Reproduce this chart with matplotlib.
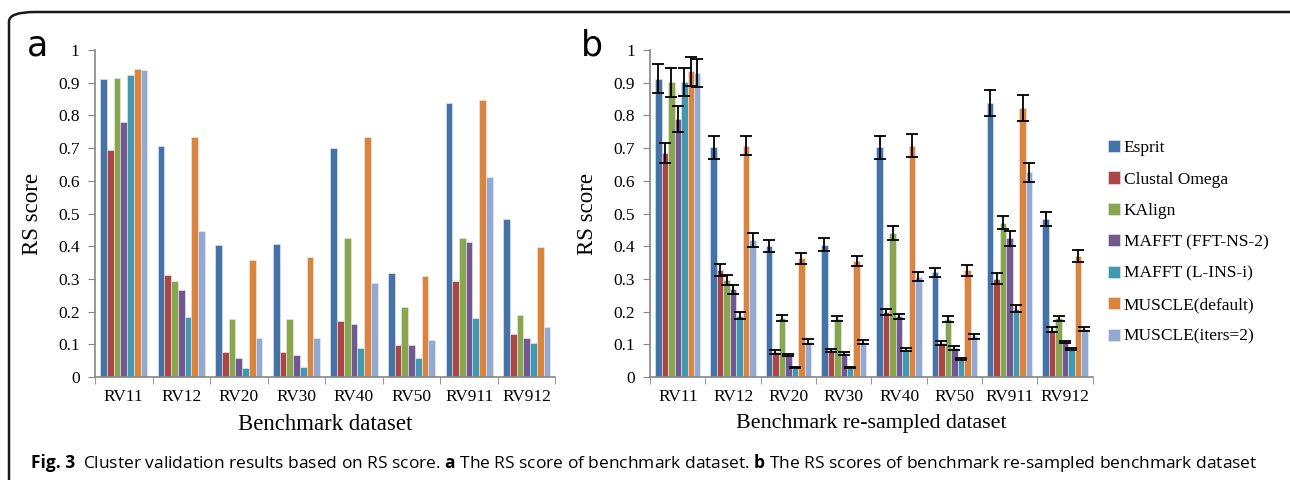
import matplotlib.pyplot as plt
import numpy as np
from matplotlib.patches import FancyBboxPatch

plt.rcParams["mathtext.fontset"] = "custom"
plt.rcParams["mathtext.bf"] = "Open Sans:bold"
plt.rcParams["mathtext.rm"] = "Open Sans"

datasets = ["RV11", "RV12", "RV20", "RV30", "RV40", "RV50", "RV911", "RV912"]
methods = ["Esprit", "Clustal Omega", "KAlign", "MAFFT (FFT-NS-2)",
           "MAFFT (L-INS-i)", "MUSCLE(default)", "MUSCLE(iters=2)"]
colors = ["#4572A7", "#AA4643", "#89A54E", "#71588F", "#4198AF", "#DB843D", "#93A9CF"]

# panel a: RS score on the benchmark datasets (rows = methods)
esprit_a = [0.911, 0.708, 0.403, 0.407, 0.701, 0.317, 0.838, 0.484]
clustal_a = [0.693, 0.312, 0.076, 0.076, 0.172, 0.099, 0.294, 0.131]
kalign_a = [0.916, 0.294, 0.176, 0.176, 0.425, 0.213, 0.425, 0.189]
fftns_a = [0.780, 0.267, 0.058, 0.067, 0.162, 0.099, 0.412, 0.118]
linsi_a = [0.925, 0.184, 0.026, 0.031, 0.090, 0.058, 0.180, 0.103]
muscle_a = [0.943, 0.734, 0.357, 0.366, 0.734, 0.308, 0.847, 0.398]
iters_a = [0.939, 0.448, 0.118, 0.118, 0.289, 0.112, 0.612, 0.153]

# panel b: mean RS score on re-sampled datasets and error bars
esprit_b = [0.912, 0.703, 0.401, 0.405, 0.703, 0.320, 0.838, 0.484]
clustal_b = [0.685, 0.327, 0.077, 0.082, 0.199, 0.104, 0.301, 0.145]
kalign_b = [0.902, 0.297, 0.180, 0.178, 0.440, 0.178, 0.472, 0.180]
fftns_b = [0.789, 0.268, 0.066, 0.072, 0.186, 0.089, 0.424, 0.107]
linsi_b = [0.902, 0.188, 0.029, 0.029, 0.084, 0.056, 0.209, 0.086]
muscle_b = [0.935, 0.708, 0.363, 0.355, 0.708, 0.327, 0.824, 0.370]
iters_b = [0.930, 0.419, 0.108, 0.108, 0.307, 0.125, 0.626, 0.147]

esprit_err = [0.044, 0.035, 0.018, 0.019, 0.035, 0.014, 0.039, 0.021]
clustal_err = [0.030, 0.018, 0.007, 0.005, 0.009, 0.005, 0.016, 0.008]
kalign_err = [0.044, 0.015, 0.010, 0.008, 0.022, 0.010, 0.020, 0.008]
fftns_err = [0.039, 0.013, 0.003, 0.005, 0.008, 0.005, 0.022, 0.004]
linsi_err = [0.042, 0.010, 0.003, 0.003, 0.004, 0.003, 0.011, 0.004]
muscle_err = [0.045, 0.030, 0.017, 0.015, 0.034, 0.017, 0.040, 0.019]
iters_err = [0.043, 0.021, 0.007, 0.006, 0.014, 0.008, 0.030, 0.005]

serif = "Liberation Serif"
fig = plt.figure(figsize=(12.9, 4.8), dpi=100)


def draw_panel(ax, series, errors=None, xlabel="", label_size=16):
    x = np.arange(len(datasets))
    w = 0.117
    for i, vals in enumerate(series):
        ax.bar(x + (i - 3) * w, vals, w, color=colors[i], edgecolor="#e8eef7",
               linewidth=0.4, label=methods[i], zorder=2)
        if errors is not None:
            ax.errorbar(x + (i - 3) * w, vals, yerr=errors[i], fmt="none",
                        ecolor="black", elinewidth=1.3, capsize=4, capthick=1.3, zorder=3)
    ax.set_xlim(-0.5, len(datasets) - 0.5)
    ax.set_ylim(0, 1)
    ax.set_yticks(np.arange(0, 1.01, 0.1))
    ax.set_yticklabels(["0"] + ["%.1f" % v for v in np.arange(0.1, 0.95, 0.1)] + ["1"],
                       fontfamily=serif, fontsize=12.5)
    ax.set_xticks(x)
    ax.set_xticklabels(datasets, fontfamily=serif, fontsize=12.5)
    ax.set_xticks(np.arange(-0.5, len(datasets)), minor=True)
    ax.tick_params(axis="x", which="major", length=0, pad=9)
    ax.tick_params(axis="x", which="minor", length=5, color="#868686")
    ax.tick_params(axis="y", length=5, color="#868686", pad=6)
    for s in ["top", "right"]:
        ax.spines[s].set_visible(False)
    for s in ["left", "bottom"]:
        ax.spines[s].set_color("#868686")
        ax.spines[s].set_linewidth(1.2)
    ax.set_xlabel(xlabel, fontfamily=serif, fontsize=label_size, labelpad=6)
    ax.set_ylabel("RS score", fontfamily=serif, fontsize=16.5, labelpad=11)


ax1 = fig.add_axes([0.0736, 0.2146, 0.357, 0.681])
draw_panel(ax1, [esprit_a, clustal_a, kalign_a, fftns_a, linsi_a, muscle_a, iters_a],
           xlabel="Benchmark dataset", label_size=16.4)

ax2 = fig.add_axes([0.504, 0.2146, 0.343, 0.681])
draw_panel(ax2, [esprit_b, clustal_b, kalign_b, fftns_b, linsi_b, muscle_b, iters_b],
           errors=[esprit_err, clustal_err, kalign_err, fftns_err, linsi_err, muscle_err, iters_err],
           xlabel="Benchmark re-sampled dataset", label_size=15.8)

ax2.legend(loc="center left", bbox_to_anchor=(1.0, 0.412), frameon=False,
           prop={"family": serif, "size": 12.5}, handlelength=0.7, handleheight=0.7,
           handletextpad=0.2, labelspacing=0.88)

fig.text(0.021, 0.905, "a", fontsize=25, family="DejaVu Sans", va="center")
fig.text(0.450, 0.905, "b", fontsize=25, family="DejaVu Sans", va="center")

# caption
fig.text(0.024, 0.036, "Fig. 3", fontsize=12.5, family="Open Sans", fontweight="bold", va="center")
fig.text(0.064, 0.036, "Cluster validation results based on RS score. $\\mathbf{a}$ The RS score of "
         "benchmark dataset. $\\mathbf{b}$ The RS scores of benchmark re-sampled benchmark dataset",
         fontsize=12.5, family="Open Sans", va="center")

border = FancyBboxPatch((9 / 1290, -0.1), 1.05, 1.075,
                        boxstyle="round,pad=0,rounding_size=0.02",
                        transform=fig.transFigure, facecolor="none",
                        edgecolor="#1a1a1a", linewidth=1.8, clip_on=False)
fig.patches.append(border)

fig.savefig("out.png", dpi=100)
